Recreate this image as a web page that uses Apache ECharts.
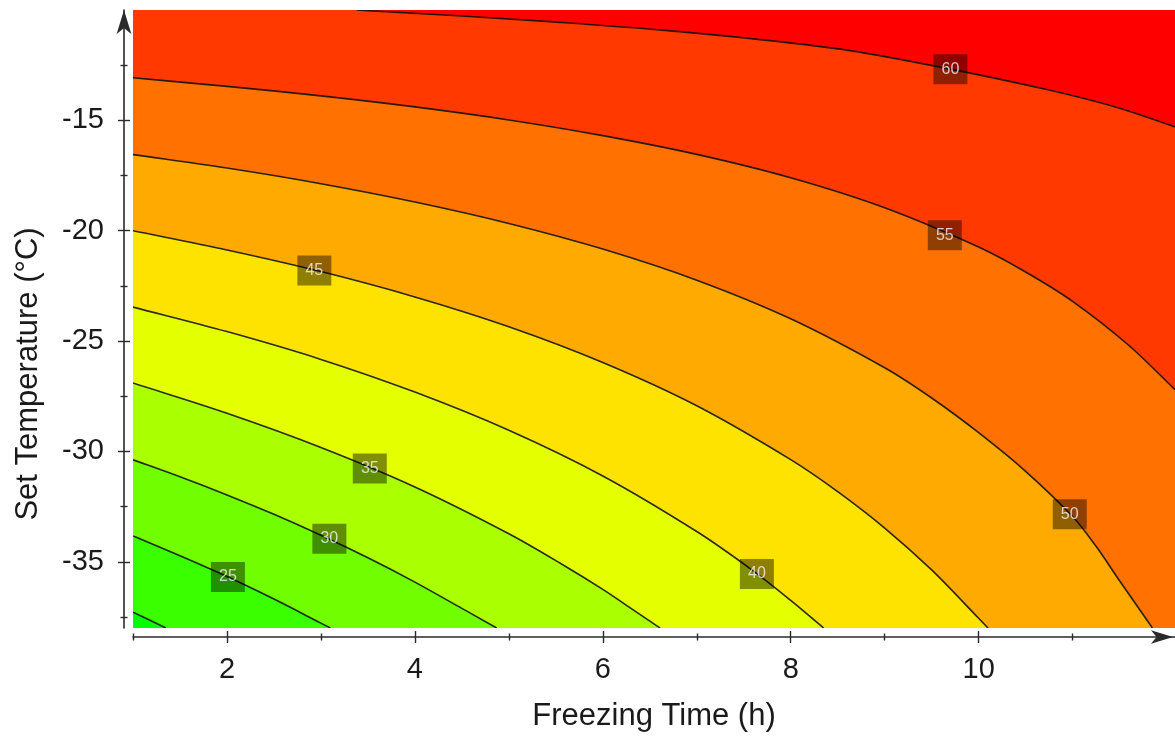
<!DOCTYPE html>
<html>
<head>
<meta charset="utf-8">
<title>Freezing time vs set temperature</title>
<script src="https://cdn.jsdelivr.net/npm/echarts@6/dist/echarts.min.js"></script>
<style>
  html, body { margin: 0; padding: 0; background: #ffffff; }
  #chart { width: 1175px; height: 738px; }
</style>
</head>
<body>
<div id="chart"></div>
<script>
// ---- axis ranges and ticks ----
const X_RANGE = [1, 12.09];
const Y_RANGE = [-38, -10];
const xMajorTicks = [2, 4, 6, 8, 10];
const xMinorTicks = [1, 3, 5, 7, 9, 11];
const yMajorTicks = [-35, -30, -25, -20, -15];
const yMinorTicks = [-37.5, -32.5, -27.5, -22.5, -17.5, -12.5];

// ---- contour levels and band colours (lowest band first) ----
const levels = [20, 25, 30, 35, 40, 45, 50, 55, 60];
const bandColors = ['#00ff00', '#39ff00', '#71ff00', '#aaff00', '#e3ff00',
                    '#ffe300', '#ffaa00', '#ff7100', '#ff3900', '#ff0000'];

// ---- contour lines: [freezing time (h), set temperature (°C)] ----
const contour20 = [[1, -37.28], [1.17, -37.63], [1.35, -38]];
const contour25 = [[1, -33.83], [1.5, -34.73], [2, -35.67], [2.5, -36.69], [3, -37.78], [3.1, -38]];
const contour30 = [[1, -30.38], [1.5, -31.15], [2, -31.97], [2.5, -32.85], [3, -33.8], [3.5, -34.82],
                   [4, -35.92], [4.5, -37.11], [4.87, -38]];
const contour35 = [[1, -26.9], [2, -28.27], [3, -29.82], [4, -31.61], [5, -33.73], [5.6, -35.2],
                   [6, -36.25], [6.3, -37.11], [6.61, -38]];
const contour40 = [[1, -23.46], [2, -24.57], [3, -25.83], [4, -27.31], [5, -29.04], [6, -31.11],
                   [7, -33.63], [7.6, -35.41], [8, -36.75], [8.35, -38]];
const contour45 = [[1, -20.0], [2, -20.87], [3, -21.85], [4, -23.0], [5, -24.35], [6, -25.97],
                   [7, -27.93], [8, -30.37], [8.5, -31.82], [9, -33.47], [9.5, -35.37], [10, -37.56],
                   [10.1, -38]];
const contour50 = [[1, -16.55], [2, -17.16], [3, -17.87], [4, -18.7], [5, -19.67], [6, -20.83],
                   [7, -22.24], [8, -23.99], [9, -26.21], [9.5, -27.58], [10, -29.15], [10.5, -30.9],
                   [11, -32.95], [11.25, -34.3], [11.5, -35.86], [11.85, -38]];
const contour55 = [[1, -13.07], [2, -13.46], [3, -13.89], [4, -14.39], [5, -14.98], [6, -15.69],
                   [7, -16.54], [8, -17.6], [9, -18.96], [10, -20.74], [10.5, -21.87], [11, -23.2],
                   [11.6, -25.2], [12.09, -27.2]];
const contour60 = [[3.38, -10], [4.5, -10.27], [5.54, -10.56], [6.6, -10.9], [7.63, -11.32],
                   [8.63, -11.84], [9.7, -12.68], [10.76, -13.64], [11.5, -14.45], [12.09, -15.3]];
const contours = [contour20, contour25, contour30, contour35, contour40,
                  contour45, contour50, contour55, contour60];

// ---- inline contour labels ----
const labelTimes  = [2.01, 3.09, 3.52, 7.64, 2.93, 10.97, 9.64, 9.70];
const labelTemps  = [-35.69, -33.96, -30.77, -35.55, -21.8, -32.85, -20.2, -12.68];
const labelLevels = [25, 30, 35, 40, 45, 50, 55, 60];

const FONT = "'Liberation Sans', Arial, Helvetica, sans-serif";
const AXIS_COLOR = '#2a2a2a';

// Smooth cubic path through pixel points (chord-length scaled tangents).
function curvePath(pts) {
  const n = pts.length;
  const dist = [];
  for (let i = 0; i < n - 1; i++) {
    dist.push(Math.hypot(pts[i + 1][0] - pts[i][0], pts[i + 1][1] - pts[i][1]) || 1e-6);
  }
  const tang = pts.map(function (p, i) {
    if (i === 0) return [(pts[1][0] - p[0]) / dist[0], (pts[1][1] - p[1]) / dist[0]];
    if (i === n - 1) return [(p[0] - pts[i - 1][0]) / dist[i - 1], (p[1] - pts[i - 1][1]) / dist[i - 1]];
    const s = dist[i - 1] + dist[i];
    return [(pts[i + 1][0] - pts[i - 1][0]) / s, (pts[i + 1][1] - pts[i - 1][1]) / s];
  });
  let d = 'M' + pts[0][0].toFixed(2) + ' ' + pts[0][1].toFixed(2);
  for (let i = 0; i < n - 1; i++) {
    const h = dist[i] / 3;
    const c1 = [pts[i][0] + tang[i][0] * h, pts[i][1] + tang[i][1] * h];
    const c2 = [pts[i + 1][0] - tang[i + 1][0] * h, pts[i + 1][1] - tang[i + 1][1] * h];
    d += ' C' + c1[0].toFixed(2) + ' ' + c1[1].toFixed(2) + ' ' +
         c2[0].toFixed(2) + ' ' + c2[1].toFixed(2) + ' ' +
         pts[i + 1][0].toFixed(2) + ' ' + pts[i + 1][1].toFixed(2);
  }
  return d;
}

// Region above a contour (values higher than its level), closed through the top-right corner.
function bandRegion(params, api) {
  const pts = contours[params.dataIndex];
  let d = curvePath(pts.map(function (p) { return api.coord(p); }));
  const first = pts[0], last = pts[pts.length - 1];
  const corners = [];
  if (last[1] <= Y_RANGE[0]) corners.push([X_RANGE[1], Y_RANGE[0]]);
  corners.push([X_RANGE[1], Y_RANGE[1]]);
  if (first[0] <= X_RANGE[0]) corners.push([X_RANGE[0], Y_RANGE[1]]);
  corners.forEach(function (p) {
    const c = api.coord(p);
    d += ' L' + c[0].toFixed(2) + ' ' + c[1].toFixed(2);
  });
  d += ' Z';
  return {
    type: 'path',
    shape: { pathData: d },
    style: { fill: bandColors[params.dataIndex + 1], stroke: 'none' }
  };
}

function contourLine(params, api) {
  const pts = contours[params.dataIndex];
  return {
    type: 'path',
    shape: { pathData: curvePath(pts.map(function (p) { return api.coord(p); })) },
    style: { fill: 'none', stroke: 'rgba(15,15,15,0.88)', lineWidth: 1.6 }
  };
}

function baseAxis(extra) {
  return Object.assign({
    type: 'value',
    splitLine: { show: false },
    axisLine: { show: false },
    axisTick: { show: false },
    axisLabel: { show: false }
  }, extra);
}

const xAxes = [
  baseAxis({
    min: X_RANGE[0], max: X_RANGE[1], position: 'bottom', offset: 9,
    axisLine: { show: true, symbol: ['none', 'arrow'], symbolSize: [10, 22], symbolOffset: [0, -2],
                lineStyle: { color: AXIS_COLOR, width: 1.6 } },
    axisLabel: { show: true, customValues: xMajorTicks, fontSize: 29, color: '#1a1a1a',
                 fontFamily: FONT, margin: 18 },
    name: 'Freezing Time (h)', nameLocation: 'middle', nameGap: 64,
    nameTextStyle: { fontSize: 31, color: '#1a1a1a', fontFamily: FONT }
  }),
  baseAxis({
    min: X_RANGE[0], max: X_RANGE[1], position: 'bottom', offset: 3,
    axisTick: { show: true, customValues: xMajorTicks, length: 12, lineStyle: { color: AXIS_COLOR, width: 1.4 } }
  }),
  baseAxis({
    min: X_RANGE[0], max: X_RANGE[1], position: 'bottom', offset: 5.5,
    axisTick: { show: true, customValues: xMinorTicks, length: 7, lineStyle: { color: AXIS_COLOR, width: 1.4 } }
  })
];

const yAxes = [
  baseAxis({
    min: Y_RANGE[0], max: Y_RANGE[1], position: 'left', offset: 9,
    axisLine: { show: true, symbol: ['none', 'arrow'], symbolSize: [11, 24], symbolOffset: [0, 0],
                lineStyle: { color: AXIS_COLOR, width: 1.6 } },
    axisLabel: { show: true, customValues: yMajorTicks, fontSize: 29, color: '#1a1a1a',
                 fontFamily: FONT, margin: 20 },
    name: 'Set Temperature (°C)', nameLocation: 'middle', nameGap: 80,
    nameTextStyle: { fontSize: 31, color: '#1a1a1a', fontFamily: FONT, padding: [0, 110, 0, 0] }
  }),
  baseAxis({
    min: Y_RANGE[0], max: Y_RANGE[1], position: 'left', offset: 3,
    axisTick: { show: true, customValues: yMajorTicks, length: 12, lineStyle: { color: AXIS_COLOR, width: 1.4 } }
  }),
  baseAxis({
    min: Y_RANGE[0], max: Y_RANGE[1], position: 'left', offset: 5.5,
    axisTick: { show: true, customValues: yMinorTicks, length: 7, lineStyle: { color: AXIS_COLOR, width: 1.4 } }
  })
];

const chart = echarts.init(document.getElementById('chart'), null, { renderer: 'canvas' });
chart.setOption({
  animation: false,
  backgroundColor: '#ffffff',
  grid: {
    left: 133, right: 0, top: 10, bottom: 110,
    show: true, backgroundColor: bandColors[0], borderWidth: 0
  },
  xAxis: xAxes,
  yAxis: yAxes,
  series: [
    {
      type: 'custom', name: 'bands', clip: true, silent: true,
      xAxisIndex: 0, yAxisIndex: 0,
      renderItem: bandRegion,
      data: levels, z: 1
    },
    {
      type: 'custom', name: 'contours', clip: true, silent: true,
      xAxisIndex: 0, yAxisIndex: 0,
      renderItem: contourLine,
      data: levels, z: 2
    },
    {
      type: 'scatter', name: 'labels', silent: true,
      xAxisIndex: 0, yAxisIndex: 0,
      symbol: 'rect', symbolSize: [34, 30],
      itemStyle: { color: 'rgba(0,0,0,0.55)' },
      label: {
        show: true, position: 'inside', color: '#f2f2f2', fontSize: 16, fontFamily: FONT,
        formatter: function (p) { return String(p.value[2]); }
      },
      data: labelTimes.map(function (t, i) { return [t, labelTemps[i], labelLevels[i]]; }),
      z: 5
    }
  ]
});
</script>
</body>
</html>
